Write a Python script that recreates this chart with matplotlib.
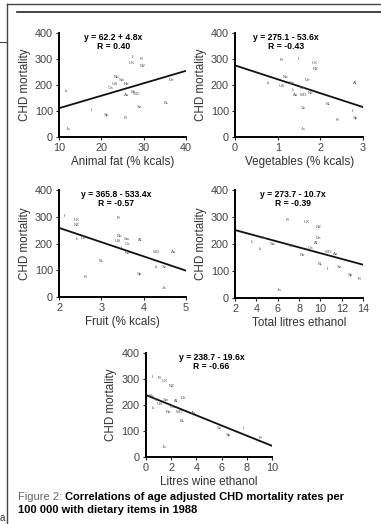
import matplotlib.pyplot as plt
from matplotlib.lines import Line2D

plt.rcParams['font.family'] = ['Liberation Sans', 'DejaVu Sans']

# CHD mortality vs dietary items, country labels
fat_labels = ['Ir', 'Fi', 'UK', 'NZ', 'Is', 'De', 'No', 'Sw', 'US', 'Ca', 'Ne', 'Be',
              'Au', 'WG', 'Sz', 'BL', 'It', 'Sp', 'Fr', 'Ja']
fat_x = [27.4, 29.5, 27.2, 29.7, 11.8, 36.5, 23.6, 24.8, 23.1, 22.2, 26.0, 27.6,
         26.0, 28.4, 29.1, 35.3, 17.7, 21.3, 25.8, 12.2]
fat_y = [307, 299, 284, 273, 178, 217, 230, 217, 204, 187, 204, 174,
         162, 164, 114, 132, 104, 85, 72, 31]

veg_labels = ['Fi', 'Ir', 'UK', 'NZ', 'Is', 'No', 'US', 'Sw', 'De', 'Ca', 'Ic', 'Au',
              'WG', 'Ne', 'Al', 'Sz', 'BL', 'It', 'Sp', 'Fr', 'Ja']
veg_x = [1.08, 1.49, 1.87, 1.88, 0.79, 1.18, 1.10, 1.32, 1.69, 1.57, 1.36, 1.41,
         1.61, 1.76, 2.82, 1.59, 2.19, 2.76, 2.83, 2.41, 1.59]
veg_y = [296, 299, 284, 261, 209, 230, 194, 207, 217, 187, 181, 162,
         162, 168, 207, 110, 126, 100, 74, 65, 30]

fruit_labels = ['Ir', 'Fi', 'UK', 'NZ', 'Ic', 'De', 'No', 'US', 'Sw', 'Ca', 'It', 'Al',
                'WG', 'Au', 'Ne', 'BL', 'Is', 'Sz', 'Sp', 'Fr', 'Ja']
fruit_x = [2.13, 3.40, 2.42, 2.42, 2.44, 2.57, 3.42, 3.38, 3.60, 3.62, 3.48, 3.91,
           4.31, 4.70, 3.62, 3.01, 4.31, 4.49, 3.89, 2.64, 4.49]
fruit_y = [304, 297, 289, 270, 216, 222, 230, 210, 216, 198, 185, 214,
           170, 168, 164, 135, 111, 114, 85, 74, 35]

eth_labels = ['Fi', 'UK', 'NZ', 'De', 'Al', 'Ic', 'No', 'Sw', 'US', 'Is', 'Ca', 'Ne',
              'WG', 'Au', 'BL', 'It', 'Sz', 'Sp', 'Fr', 'Ja']
eth_x = [6.87, 8.75, 9.78, 9.78, 9.56, 3.59, 4.69, 5.56, 7.28, 4.37, 9.06, 8.28,
         10.78, 11.4, 10.0, 10.71, 11.75, 12.78, 13.72, 6.1]
eth_y = [290, 282, 262, 222, 203, 209, 224, 200, 193, 181, 187, 160,
         172, 163, 125, 108, 115, 86, 71, 32]

wine_labels = ['Ir', 'Fi', 'UK', 'NZ', 'No', 'Sw', 'Ic', 'US', 'Is', 'De', 'Al', 'Ca',
               'Ne', 'WG', 'Au', 'BL', 'Sz', 'Sp', 'It', 'Fr', 'Ja']
wine_x = [0.56, 1.09, 1.48, 2.01, 0.42, 1.61, 0.82, 1.09, 0.56, 2.94, 2.40, 2.14,
          1.75, 2.67, 3.78, 2.86, 5.79, 6.51, 7.78, 9.07, 1.48]
wine_y = [309, 305, 293, 274, 236, 219, 219, 203, 190, 226, 216, 194,
          174, 174, 171, 139, 113, 85, 110, 74, 40]

# regression lines (intercept, slope) and their printed equations
fits = [(62.2, 4.8), (275.1, -53.6), (365.8, -53.34), (273.7, -10.7), (238.7, -19.6)]
equations = ['y = 62.2 + 4.8x\nR = 0.40', 'y = 275.1 - 53.6x\nR = -0.43',
             'y = 365.8 - 533.4x\nR = -0.57', 'y = 273.7 - 10.7x\nR = -0.39',
             'y = 238.7 - 19.6x\nR = -0.66']
xlabels = ['Animal fat (% kcals)', 'Vegetables (% kcals)', 'Fruit (% kcals)',
           'Total litres ethanol', 'Litres wine ethanol']
xlims = [(10, 40), (0, 3), (2, 5), (2, 14), (0, 10)]
xticks = [[10, 20, 30, 40], [0, 1, 2, 3], [2, 3, 4, 5],
          [2, 4, 6, 8, 10, 12, 14], [0, 2, 4, 6, 8, 10]]
eq_pos = [0.43, 0.40, 0.45, 0.45, 0.52]

panels = [(fat_labels, fat_x, fat_y), (veg_labels, veg_x, veg_y),
          (fruit_labels, fruit_x, fruit_y), (eth_labels, eth_x, eth_y),
          (wine_labels, wine_x, wine_y)]

rects = [[0.155, 0.739, 0.333, 0.198], [0.617, 0.739, 0.336, 0.198],
         [0.155, 0.433, 0.333, 0.204], [0.617, 0.431, 0.336, 0.206],
         [0.383, 0.128, 0.331, 0.198]]

fig = plt.figure(figsize=(3.81, 5.24), dpi=100)

for i, (labs, xs, ys) in enumerate(panels):
    ax = fig.add_axes(rects[i])
    for lab, x, y in zip(labs, xs, ys):
        ax.text(x, y, lab, fontsize=3.2, color='#555555', ha='center', va='center')
    x0, x1 = xlims[i]
    a, b = fits[i]
    ax.plot([x0, x1], [a + b * x0, a + b * x1], color='#111111', lw=1.3)
    ax.set_xlim(x0, x1)
    ax.set_ylim(0, 400)
    ax.set_xticks(xticks[i])
    ax.set_yticks([0, 100, 200, 300, 400])
    ax.spines['top'].set_visible(False)
    ax.spines['right'].set_visible(False)
    ax.spines['left'].set_linewidth(1.4)
    ax.spines['bottom'].set_linewidth(1.4)
    ax.tick_params(labelsize=7.8, length=2.5, width=0.8, pad=2, colors='#222222',
                   labelcolor='#444444')
    ax.set_xlabel(xlabels[i], fontsize=8.4, color='#333333', labelpad=2)
    ax.set_ylabel('CHD mortality', fontsize=8.4, color='#333333', labelpad=3)
    ax.text(eq_pos[i], 1.0, equations[i], transform=ax.transAxes, ha='center',
            va='top', fontsize=6.2, fontweight='bold', linespacing=1.0)

# page frame lines
W, H = 381, 524
def hline(y, x0, x1, lw, c='#444444'):
    fig.add_artist(Line2D([x0 / W, x1 / W], [1 - y / H, 1 - y / H], lw=lw, color=c))

hline(4, 7, 381, 1.0)
hline(12, 17, 381, 1.2, '#222222')
hline(42, 0, 7, 0.8)
fig.add_artist(Line2D([7 / W, 7 / W], [1 - 4 / H, 0], lw=1.0, color='#444444'))
fig.text(0.0 / W, 1 - 518 / H, 'a', fontsize=7, va='center', color='#333333')

# caption
t1 = fig.text(18 / W, 1 - 497 / H, 'Figure 2: ', fontsize=8, color='#666666', va='center')
fig.canvas.draw()
bb = t1.get_window_extent()
fig.text(bb.x1 / fig.bbox.width, 1 - 497 / H,
         'Correlations of age adjusted CHD mortality rates per',
         fontsize=8, fontweight='bold', va='center')
fig.text(18 / W, 1 - 510 / H, '100 000 with dietary items in 1988',
         fontsize=8, fontweight='bold', va='center')

plt.savefig('out.png', dpi=100)
